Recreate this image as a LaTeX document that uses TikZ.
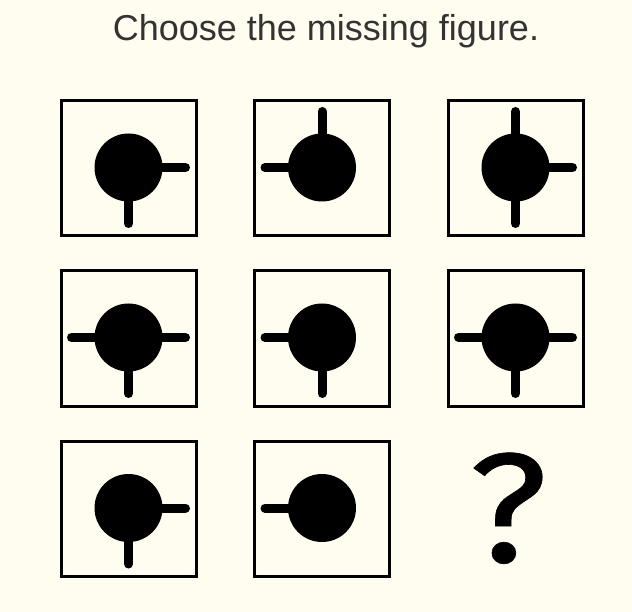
\documentclass[tikz,border=0pt]{standalone}
\usepackage{fontspec}
\setmainfont{Liberation Sans}
\newfontfamily\qfont[FakeStretch=1.1,FakeBold=0.4]{Fira Sans}
\usetikzlibrary{positioning}
\definecolor{paper}{RGB}{255,252,240}
\definecolor{titlegray}{RGB}{51,51,51}
\tikzset{
  figbox/.style={draw,line width=3pt,minimum size=135pt,inner sep=0pt},
  disc/.style={circle,fill=black,minimum size=68pt,inner sep=0pt},
  arm/.style={line width=9pt,line cap=round}
}

\begin{document}
\begin{tikzpicture}[x=1pt,y=-1pt]
\fill[paper](0,0) rectangle (632,612);
\useasboundingbox (0,0) rectangle (632,612);

\node[anchor=base,text=titlegray,font=\fontsize{36}{40}\selectfont](title) at (326,41){Choose the missing figure.};

% boxes
\node[figbox](b11) at (129,168.5){};
\node[figbox](b12) at (322,168.5){};
\node[figbox](b13) at (516,168.5){};
\node[figbox](b21) at (129,338.5){};
\node[figbox](b22) at (322,338.5){};
\node[figbox](b23) at (516,338.5){};
\node[figbox](b31) at (129,509){};
\node[figbox](b32) at (322,509){};

% discs
\node[disc](c11) at (128.5,167.5){};
\node[disc](c12) at (322,167.5){};
\node[disc](c13) at (515.5,167.5){};
\node[disc](c21) at (128.5,337.5){};
\node[disc](c22) at (322,337.5){};
\node[disc](c23) at (515.5,337.5){};
\node[disc](c31) at (128.5,508){};
\node[disc](c32) at (322,508){};

% arms
\draw[arm](c11.center)--++(57,0);
\draw[arm](c11.center)--++(0,56);
\draw[arm](c12.center)--++(-57,0);
\draw[arm](c12.center)--++(0,-56);
\draw[arm](c13.center)--++(0,-56);
\draw[arm](c13.center)--++(57,0);
\draw[arm](c13.center)--++(0,56);
\draw[arm](c21.center)--++(-57,0);
\draw[arm](c21.center)--++(57,0);
\draw[arm](c21.center)--++(0,56);
\draw[arm](c22.center)--++(-57,0);
\draw[arm](c22.center)--++(0,56);
\draw[arm](c23.center)--++(-57,0);
\draw[arm](c23.center)--++(57,0);
\draw[arm](c23.center)--++(0,56);
\draw[arm](c31.center)--++(57,0);
\draw[arm](c31.center)--++(0,56);
\draw[arm](c32.center)--++(-57,0);

\node[anchor=base,font=\qfont\fontsize{156}{156}\selectfont,inner sep=0pt](missing) at (508,562){?};
\end{tikzpicture}
\end{document}
